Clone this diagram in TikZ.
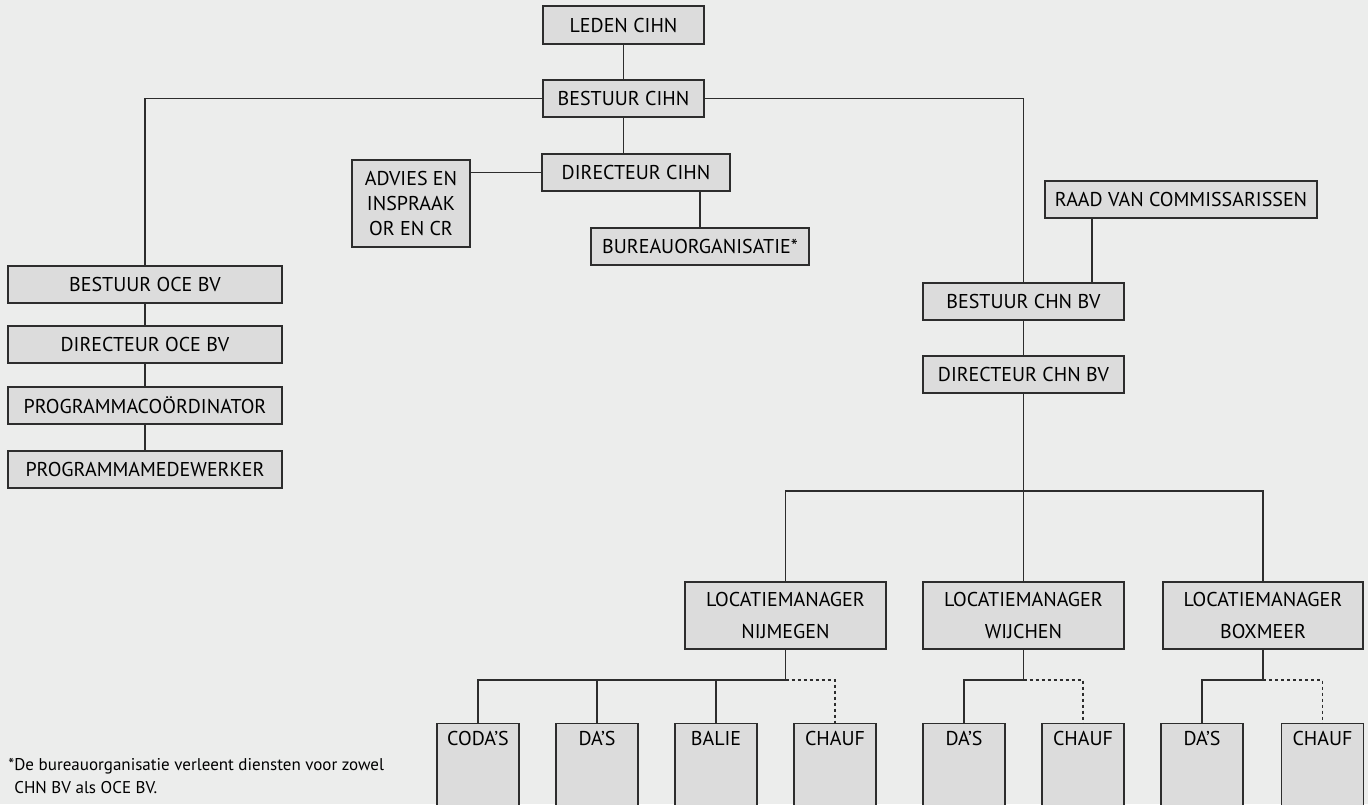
\documentclass[tikz,border=0pt]{standalone}
\usepackage{fontspec}
\setmainfont{PT Sans}
\usetikzlibrary{calc}
\definecolor{bgc}{RGB}{236,237,236}
\definecolor{boxc}{RGB}{220,220,220}
\definecolor{linec}{RGB}{45,45,45}
\tikzset{
  orgbox/.style={draw=linec, fill=boxc, line width=0.6pt, inner sep=0pt, align=center, font=\fontsize{10}{16}\selectfont},
  lowbox/.style={orgbox, anchor=north, minimum width=41pt, text height=7pt, text depth=34pt, inner ysep=4pt},
  conn/.style={draw=linec, line width=0.6pt},
  dconn/.style={conn, dash pattern=on 1.5pt off 1.5pt},
}
\begin{document}
\begin{tikzpicture}[x=0.5pt,y=-0.5pt]
\fill[bgc] (0,0) rectangle (1368,804);
\useasboundingbox (0,0) rectangle (1368,804);
\clip (0,0) rectangle (1368,804);
% top
\node[orgbox, minimum width=80.5pt, minimum height=19pt] (leden) at (623.5,25) {LEDEN CIHN};
\node[orgbox, minimum width=80.5pt, minimum height=18.5pt] (bestuur) at (623.5,98.5) {BESTUUR CIHN};
\node[orgbox, minimum width=94pt, minimum height=18.5pt] (dir) at (636,172.5) {DIRECTEUR CIHN};
\node[orgbox, minimum width=59pt, minimum height=43.5pt, font=\fontsize{10}{12.5}\selectfont] (advies) at (411,203.5) {ADVIES EN\\INSPRAAK\\OR EN CR};
\node[orgbox, minimum width=109pt, minimum height=18.5pt] (bureau) at (700,246.5) {BUREAUORGANISATIE*};
% left
\node[orgbox, minimum width=137pt, minimum height=18.5pt] (oceB) at (145,284.5) {BESTUUR OCE BV};
\node[orgbox, minimum width=137pt, minimum height=18.5pt] (oceD) at (145,344.5) {DIRECTEUR OCE BV};
\node[orgbox, minimum width=137pt, minimum height=18.5pt] (prog) at (145,405.5) {PROGRAMMACOÖRDINATOR};
\node[orgbox, minimum width=137pt, minimum height=18.5pt] (medew) at (145,469.5) {PROGRAMMAMEDEWERKER};
% right
\node[orgbox, minimum width=136pt, minimum height=18.5pt] (raad) at (1181,199.5) {RAAD VAN COMMISSARISSEN};
\node[orgbox, minimum width=100.5pt, minimum height=18.5pt] (chnB) at (1023.5,301.5) {BESTUUR CHN BV};
\node[orgbox, minimum width=100.5pt, minimum height=18.5pt] (chnD) at (1023.5,374.5) {DIRECTEUR CHN BV};
\node[orgbox, minimum width=100.5pt, minimum height=33.5pt] (lmN) at (785.5,615.5) {LOCATIEMANAGER\\NIJMEGEN};
\node[orgbox, minimum width=100.5pt, minimum height=33.5pt] (lmW) at (1023.5,615.5) {LOCATIEMANAGER\\WIJCHEN};
\node[orgbox, minimum width=100pt, minimum height=33.5pt] (lmB) at (1263,615.5) {LOCATIEMANAGER\\BOXMEER};
% bottom
\node[lowbox] (codas) at (478,723) {CODA’S};
\node[lowbox] (das1) at (597,723) {DA’S};
\node[lowbox] (balie) at (716,723) {BALIE};
\node[lowbox] (chauf1) at (835,723) {CHAUF};
\node[lowbox] (das2) at (964,723) {DA’S};
\node[lowbox] (chauf2) at (1083,723) {CHAUF};
\node[lowbox] (das3) at (1202,723) {DA’S};
\node[lowbox] (chauf3) at (1322.5,723) {CHAUF};
% footnote
\node[anchor=north west, align=left, inner sep=0pt, font=\fontsize{8.5}{11.5}\selectfont] (note) at (8,758) {*De bureauorganisatie verleent diensten voor zowel\\\phantom{*}CHN BV als OCE BV.};
% coordinates
\coordinate (rc) at (1092,218);
\coordinate (bus) at (1023.5,491);
\coordinate (nb1) at (785.5,680);
\coordinate (nb2) at (1023.5,680);
\coordinate (nb3) at (1263,680);
% connectors
\draw[conn] (leden) -- (bestuur);
\draw[conn] (bestuur.south) -- (bestuur.south |- dir.north);
\draw[conn] (bestuur.west) -| (oceB.north);
\draw[conn] (bestuur.east) -| (chnB.north);
\draw[conn] (dir.west) -- (dir.west -| advies.east);
\draw[conn] (bureau.north) -- (bureau.north |- dir.south);
\draw[conn] (raad.south -| rc) -- (chnB.north -| rc);
\draw[conn] (oceB) -- (oceD);
\draw[conn] (oceD) -- (prog);
\draw[conn] (prog) -- (medew);
\draw[conn] (chnB) -- (chnD);
\draw[conn] (chnD) -- (lmW);
\draw[conn] (lmN.north) |- (bus) -| (lmB.north);
\draw[conn] (lmN.south) -- (nb1);
\draw[conn] (nb1) -| (codas.north);
\draw[conn] (das1.north) -- (das1.north |- nb1);
\draw[conn] (balie.north) -- (balie.north |- nb1);
\draw[dconn] (nb1) -| (chauf1.north);
\draw[conn] (lmW.south) -- (nb2) -| (das2.north);
\draw[dconn] (nb2) -| (chauf2.north);
\draw[conn] (lmB.south) -- (nb3) -| (das3.north);
\draw[dconn] (nb3) -| (chauf3.north);
\end{tikzpicture}
\end{document}
